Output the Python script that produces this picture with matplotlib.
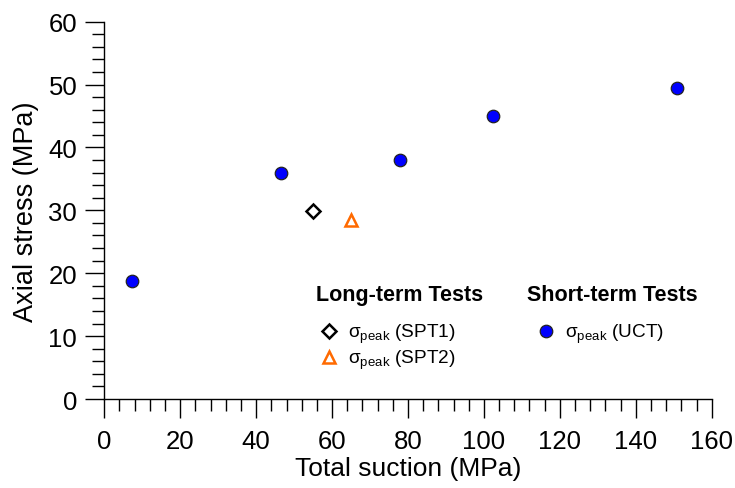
import matplotlib
matplotlib.use("Agg")
import matplotlib.pyplot as plt
from matplotlib.ticker import MultipleLocator

plt.rcParams['font.family'] = ['Liberation Sans', 'DejaVu Sans']
plt.rcParams['mathtext.fontset'] = 'custom'
plt.rcParams['mathtext.rm'] = 'Liberation Sans'
plt.rcParams['mathtext.it'] = 'Liberation Sans'

# Data
uct_suction = [7.2, 46.5, 78.0, 102.4, 150.8]
uct_stress = [18.8, 36.0, 38.0, 45.0, 49.5]
spt1_suction = [55.0]
spt1_stress = [29.9]
spt2_suction = [65.0]
spt2_stress = [28.4]

xlabel = "Total suction (MPa)"
ylabel = "Axial stress (MPa)"
long_title = "Long-term Tests"
short_title = "Short-term Tests"
lab_spt1 = r"$\mathregular{\sigma_{peak}}$ (SPT1)"
lab_spt2 = r"$\mathregular{\sigma_{peak}}$ (SPT2)"
lab_uct = r"$\mathregular{\sigma_{peak}}$ (UCT)"

fig = plt.figure(figsize=(7.35, 4.89), dpi=100)
ax = fig.add_axes([0.1419, 0.182, 0.9683 - 0.1419, 0.9536 - 0.182])

h1, = ax.plot(spt1_suction, spt1_stress, linestyle='none', marker='D', markersize=7,
              markerfacecolor='white', markeredgecolor='black', markeredgewidth=1.8, label=lab_spt1)
h2, = ax.plot(spt2_suction, spt2_stress, linestyle='none', marker='^', markersize=9,
              markerfacecolor='white', markeredgecolor='#ff6a00', markeredgewidth=1.8, label=lab_spt2)
h3, = ax.plot(uct_suction, uct_stress, linestyle='none', marker='o', markersize=9,
              markerfacecolor='#0000ff', markeredgecolor='#222222', markeredgewidth=0.9, label=lab_uct)

ax.set_xlim(0, 160)
ax.set_ylim(0, 60)
ax.xaxis.set_major_locator(MultipleLocator(20))
ax.xaxis.set_minor_locator(MultipleLocator(4))
ax.yaxis.set_major_locator(MultipleLocator(10))
ax.yaxis.set_minor_locator(MultipleLocator(2))

for s in ['top', 'right']:
    ax.spines[s].set_visible(False)
for s in ['left', 'bottom']:
    ax.spines[s].set_linewidth(1.0)

ax.tick_params(which='major', direction='out', length=13.5, width=1.0, labelsize=18.5)
ax.tick_params(axis='x', which='major', pad=8)
ax.tick_params(axis='y', which='major', pad=6)
ax.tick_params(which='minor', direction='out', length=8.3, width=1.0)

ax.set_xlabel(xlabel, fontsize=19, labelpad=2)
ax.set_ylabel(ylabel, fontsize=19.5, labelpad=7)

ax.text(0.3485, 0.263, long_title, transform=ax.transAxes, fontsize=15.5,
        fontweight='bold', ha='left', va='baseline')
ax.text(0.6956, 0.263, short_title, transform=ax.transAxes, fontsize=15.5,
        fontweight='bold', ha='left', va='baseline')

leg_kw = dict(frameon=False, loc='upper left', fontsize=13.7, handlelength=1.0,
              handletextpad=0.5, borderaxespad=0, borderpad=0, labelspacing=0.15)
leg1 = ax.legend(handles=[h1, h2], bbox_to_anchor=(0.3544, 0.204), **leg_kw)
ax.add_artist(leg1)
leg2 = ax.legend(handles=[h3], bbox_to_anchor=(0.7116, 0.204), **leg_kw)

fig.savefig("out.png", dpi=100)
